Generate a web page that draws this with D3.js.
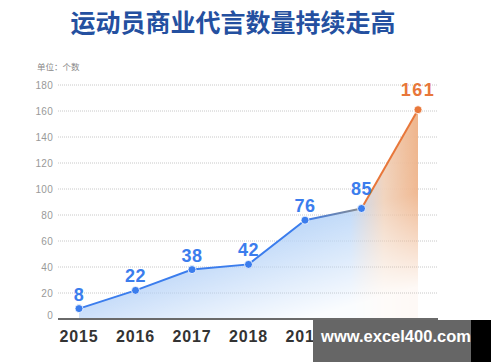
<!DOCTYPE html>
<html>
<head>
<meta charset="utf-8">
<script src="https://cdn.jsdelivr.net/npm/d3@7/dist/d3.min.js"></script>
<style>
  body { margin: 0; background: #fff; }
  svg { display: block; }
</style>
</head>
<body>
<svg id="chart" width="500" height="362"></svg>
<script>
var years = ["2015", "2016", "2017", "2018", "2019", "2020", "2021"];
var counts = [8, 22, 38, 42, 76, 85, 161];
var yTicks = [0, 20, 40, 60, 80, 100, 120, 140, 160, 180];

var svg = d3.select("#chart");
var blue = "#3b7ded", orange = "#e8773a";

var x = d3.scalePoint().domain(years).range([79, 418]);
var y = d3.scaleLinear().domain([0, 180]).range([319, 85]);

var data = years.map(function (d, i) { return { year: d, value: counts[i] }; });

// title
svg.append("text")
    .attr("x", 233).attr("y", 32)
    .attr("text-anchor", "middle")
    .style("font-family", "'Noto Sans CJK SC', sans-serif")
    .style("font-weight", "bold")
    .style("font-size", "25px")
    .style("fill", "#2450a0")
    .text("运动员商业代言数量持续走高");

svg.append("text")
    .attr("x", 37).attr("y", 70)
    .style("font-family", "'Noto Sans CJK SC', sans-serif")
    .style("font-size", "8.5px")
    .style("fill", "#888")
    .text("单位：个数");

// gradients
var defs = svg.append("defs");
var fillGrad = defs.append("linearGradient")
    .attr("id", "areaFill")
    .attr("gradientUnits", "userSpaceOnUse")
    .attr("x1", 79).attr("x2", 418).attr("y1", 0).attr("y2", 0);
fillGrad.append("stop").attr("offset", "0%").attr("stop-color", "#aecdf6");
fillGrad.append("stop").attr("offset", "80%").attr("stop-color", "#bcd7f8");
fillGrad.append("stop").attr("offset", "90%").attr("stop-color", "#f0d0b8");
fillGrad.append("stop").attr("offset", "100%").attr("stop-color", "#eeb186");

var fadeGrad = defs.append("linearGradient")
    .attr("id", "fade")
    .attr("gradientUnits", "userSpaceOnUse")
    .attr("x1", 200).attr("y1", 110).attr("x2", 260).attr("y2", 330);
fadeGrad.append("stop").attr("offset", "0%").attr("stop-color", "#fff").attr("stop-opacity", 1);
fadeGrad.append("stop").attr("offset", "60%").attr("stop-color", "#fff").attr("stop-opacity", 0.9);
fadeGrad.append("stop").attr("offset", "100%").attr("stop-color", "#fff").attr("stop-opacity", 0.08);

defs.append("mask").attr("id", "fadeMask")
    .append("rect")
    .attr("x", 0).attr("y", 0).attr("width", 500).attr("height", 362)
    .attr("fill", "url(#fade)");

var segGrad = defs.append("linearGradient")
    .attr("id", "segGrad")
    .attr("gradientUnits", "userSpaceOnUse")
    .attr("x1", x("2019")).attr("x2", x("2020")).attr("y1", 0).attr("y2", 0);
segGrad.append("stop").attr("offset", "0%").attr("stop-color", blue);
segGrad.append("stop").attr("offset", "100%").attr("stop-color", "#8a8a8a");

// grid
svg.append("g").selectAll("line")
    .data(yTicks.slice(1))
    .enter().append("line")
    .attr("x1", 58).attr("x2", 437)
    .attr("y1", function (d) { return y(d); })
    .attr("y2", function (d) { return y(d); })
    .style("stroke", "#c8c8c8")
    .style("stroke-width", 1)
    .style("stroke-dasharray", "1,1");

svg.append("g").selectAll("text")
    .data(yTicks)
    .enter().append("text")
    .attr("x", 53)
    .attr("y", function (d) { return y(d) + (d === 0 ? 0 : 3.5); })
    .attr("text-anchor", "end")
    .style("font-family", "'Liberation Sans', Arial, sans-serif")
    .style("font-size", "10px")
    .style("letter-spacing", "0.3px")
    .style("fill", "#999")
    .text(function (d) { return d; });

// area
var area = d3.area()
    .x(function (d) { return x(d.year); })
    .y0(y(0))
    .y1(function (d) { return y(d.value); });

svg.append("path")
    .datum(data)
    .attr("d", area)
    .attr("fill", "url(#areaFill)")
    .attr("mask", "url(#fadeMask)");

// axis line
svg.append("line")
    .attr("x1", 58).attr("x2", 438)
    .attr("y1", y(0)).attr("y2", y(0))
    .style("stroke", "#6a6a6a")
    .style("stroke-width", 2);

// x labels (the last two sit under the watermark, as in the source image)
svg.append("g").selectAll("text")
    .data(years)
    .enter().append("text")
    .attr("x", function (d) { return x(d); })
    .attr("y", 342)
    .attr("text-anchor", "middle")
    .style("font-family", "'Liberation Sans', Arial, sans-serif")
    .style("font-weight", "bold")
    .style("font-size", "16px")
    .style("letter-spacing", "0.8px")
    .style("fill", "#333")
    .text(function (d) { return d; });

// line segments
var line = d3.line()
    .x(function (d) { return x(d.year); })
    .y(function (d) { return y(d.value); });

svg.append("path")
    .datum(data.slice(0, 5))
    .attr("d", line)
    .attr("fill", "none")
    .style("stroke", blue)
    .style("stroke-width", 2);

svg.append("path")
    .datum(data.slice(4, 6))
    .attr("d", line)
    .attr("fill", "none")
    .style("stroke", "url(#segGrad)")
    .style("stroke-width", 2);

svg.append("path")
    .datum(data.slice(5, 7))
    .attr("d", line)
    .attr("fill", "none")
    .style("stroke", orange)
    .style("stroke-width", 2);

// points
svg.append("g").selectAll("circle")
    .data(data)
    .enter().append("circle")
    .attr("cx", function (d) { return x(d.year); })
    .attr("cy", function (d) { return y(d.value); })
    .attr("r", 4)
    .style("fill", function (d, i) { return i === data.length - 1 ? orange : blue; })
    .style("stroke", "#fff")
    .style("stroke-width", 0.8);

// value labels
svg.append("g").selectAll("text")
    .data(data)
    .enter().append("text")
    .attr("x", function (d) { return x(d.year); })
    .attr("y", function (d, i) { return y(d.value) - (i >= 5 ? 14 : 8); })
    .attr("text-anchor", "middle")
    .style("font-family", "'Liberation Sans', Arial, sans-serif")
    .style("font-weight", "bold")
    .style("font-size", "18px")
    .style("letter-spacing", function (d, i) { return i === data.length - 1 ? "1.5px" : "0.5px"; })
    .style("fill", function (d, i) { return i === data.length - 1 ? orange : blue; })
    .text(function (d) { return d.value; });

// watermark
svg.append("rect").attr("x", 313).attr("y", 320).attr("width", 158).attr("height", 42).style("fill", "#666");
svg.append("rect").attr("x", 471).attr("y", 320).attr("width", 20).attr("height", 42).style("fill", "#000");
svg.append("text")
    .attr("x", 396).attr("y", 342)
    .attr("text-anchor", "middle")
    .style("font-family", "'Liberation Sans', Arial, sans-serif")
    .style("font-weight", "bold")
    .style("font-size", "16.5px")
    .style("fill", "#fff")
    .text("www.excel400.com");
</script>
</body>
</html>
